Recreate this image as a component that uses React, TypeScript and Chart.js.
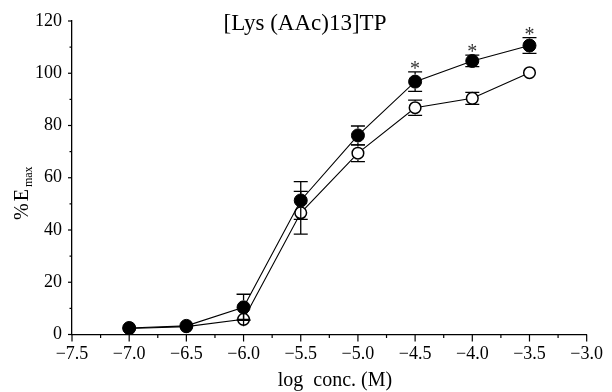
import { useEffect, useRef } from "react";
import { Chart, registerables } from "chart.js";

Chart.register(...registerables);

const FONT = '"Liberation Serif", "Times New Roman", serif';

// log concentration (M)
const concentrations = [-7.0, -6.5, -6.0, -5.5, -5.0, -4.5, -4.0, -3.5];
// filled circles
const filledMean = [2.5, 3.3, 10.4, 51.3, 76.2, 96.8, 104.7, 110.6];
const filledSem = [0, 0, 5.0, 7.2, 3.6, 3.7, 2.2, 3.0];
// open circles
const openMean = [2.3, 3.0, 5.8, 46.6, 69.4, 86.8, 90.4, 100.2];
const openSem = [0, 0, 1.5, 8.2, 3.2, 2.9, 2.3, 0];
// significance markers (*)
const significant = [false, false, false, false, false, true, true, true];

const titleText = "[Lys (AAc)13]TP";
const xTitle = "log  conc. (M)";

const isMajorX = (v: number) => Math.abs(v * 2 - Math.round(v * 2)) < 1e-6;
const isMajorY = (v: number) => Math.abs(v / 20 - Math.round(v / 20)) < 1e-6;

const FILLED_R = 6.5;
const OPEN_R = 5.8;

const overlay = {
  id: "overlay",
  afterDatasetsDraw(chart: any) {
    const ctx = chart.ctx as CanvasRenderingContext2D;
    const xs = chart.scales.x;
    const ys = chart.scales.y;
    ctx.save();
    ctx.strokeStyle = "#000";
    ctx.lineWidth = 1.3;
    const drawErr = (means: number[], sems: number[], r: number) => {
      concentrations.forEach((c, i) => {
        const e = sems[i];
        if (!e) return;
        const px = xs.getPixelForValue(c);
        const py = ys.getPixelForValue(means[i]);
        const top = ys.getPixelForValue(means[i] + e);
        const bot = ys.getPixelForValue(means[i] - e);
        ctx.beginPath();
        if (py - top < 5) {
          // tiny error: shows as a cross through the marker
          ctx.moveTo(px, py - r);
          ctx.lineTo(px, py + r);
          ctx.moveTo(px - r, py);
          ctx.lineTo(px + r, py);
        } else {
          if (py - top > r) {
            ctx.moveTo(px, py - r);
            ctx.lineTo(px, top);
            ctx.moveTo(px, py + r);
            ctx.lineTo(px, bot);
          }
          ctx.moveTo(px - 7, top);
          ctx.lineTo(px + 7, top);
          ctx.moveTo(px - 7, bot);
          ctx.lineTo(px + 7, bot);
        }
        ctx.stroke();
      });
    };
    drawErr(openMean, openSem, OPEN_R + 1);
    drawErr(filledMean, filledSem, FILLED_R + 0.5);

    // asterisks
    ctx.fillStyle = "#333";
    ctx.font = `20px ${FONT}`;
    ctx.textAlign = "center";
    ctx.textBaseline = "alphabetic";
    concentrations.forEach((c, i) => {
      if (!significant[i]) return;
      const px = xs.getPixelForValue(c);
      const top = ys.getPixelForValue(filledMean[i] + filledSem[i]);
      ctx.fillText("*", px, top + 3);
    });
    ctx.restore();
  },
  afterDraw(chart: any) {
    const ctx = chart.ctx as CanvasRenderingContext2D;
    const xs = chart.scales.x;
    const ys = chart.scales.y;
    const area = chart.chartArea;
    ctx.save();
    ctx.strokeStyle = "#000";
    ctx.lineWidth = 1.2;
    xs.ticks.forEach((t: any) => {
      const px = xs.getPixelForValue(t.value);
      ctx.beginPath();
      ctx.moveTo(px, area.bottom);
      ctx.lineTo(px, area.bottom + (isMajorX(t.value) ? 7 : 3.5));
      ctx.stroke();
    });
    ys.ticks.forEach((t: any) => {
      const py = ys.getPixelForValue(t.value);
      ctx.beginPath();
      ctx.moveTo(area.left, py);
      ctx.lineTo(area.left - (isMajorY(t.value) ? 4 : 2.5), py);
      ctx.stroke();
    });

    ctx.fillStyle = "#000";
    // title
    ctx.font = `23px ${FONT}`;
    ctx.textAlign = "center";
    ctx.textBaseline = "middle";
    ctx.fillText(titleText, 305, 24);
    // x title
    ctx.font = `20px ${FONT}`;
    ctx.fillText(xTitle, 335, 381);
    // y title with subscript
    ctx.translate(28, 220);
    ctx.rotate(-Math.PI / 2);
    ctx.textAlign = "left";
    ctx.textBaseline = "alphabetic";
    ctx.font = `20px ${FONT}`;
    let x = 0;
    ctx.fillText("%", x, 0);
    x += ctx.measureText("%").width + 2;
    ctx.fillText("E", x, 0);
    x += ctx.measureText("E").width + 2;
    ctx.font = `12px ${FONT}`;
    ctx.fillText("max", x, 4);
    ctx.restore();
  },
};

export default function App() {
  const ref = useRef<HTMLCanvasElement>(null);
  useEffect(() => {
    const canvas = ref.current;
    if (!canvas) return;
    const chart = new Chart(canvas, {
      type: "line",
      data: {
        datasets: [
          {
            label: "filled",
            data: concentrations.map((c, i) => ({ x: c, y: filledMean[i] })),
            borderColor: "#000",
            borderWidth: 1.1,
            pointRadius: FILLED_R,
            pointBorderWidth: 1,
            pointBackgroundColor: "#000",
            pointBorderColor: "#000",
            tension: 0,
          },
          {
            label: "open",
            data: concentrations.map((c, i) => ({ x: c, y: openMean[i] })),
            borderColor: "#000",
            borderWidth: 1.1,
            pointRadius: OPEN_R,
            pointBorderWidth: 1.5,
            pointBackgroundColor: "#fff",
            pointBorderColor: "#000",
            tension: 0,
          },
        ],
      },
      options: {
        animation: false,
        responsive: false,
        maintainAspectRatio: false,
        layout: { padding: { left: 0, top: 21, right: 24, bottom: 0 } },
        plugins: {
          legend: { display: false },
          tooltip: { enabled: false },
          title: { display: false },
        },
        scales: {
          x: {
            type: "linear",
            min: -7.5,
            max: -3.0,
            afterFit: (s: any) => {
              s.height = 57.5;
            },
            ticks: {
              stepSize: 0.25,
              autoSkip: false,
              maxRotation: 0,
              padding: 9,
              color: "#000",
              font: { family: FONT, size: 18 },
              callback: (v: any) =>
                isMajorX(Number(v)) ? Number(v).toFixed(1).replace("-", "\u2212") : "",
            },
            grid: { display: false, drawTicks: false },
            border: { display: true, color: "#000", width: 1.3 },
          },
          y: {
            type: "linear",
            min: 0,
            max: 120,
            afterFit: (s: any) => {
              s.width = 72;
            },
            ticks: {
              stepSize: 10,
              autoSkip: false,
              padding: 10,
              color: "#000",
              font: { family: FONT, size: 18 },
              callback: (v: any) => (isMajorY(Number(v)) ? String(v) : ""),
            },
            grid: { display: false, drawTicks: false },
            border: { display: true, color: "#000", width: 1.3 },
          },
        },
      },
      plugins: [overlay],
    });
    return () => chart.destroy();
  }, []);
  return (
    <div style={{ position: "fixed", left: 0, top: 0, width: 612, height: 392, background: "#fff" }}>
      <canvas ref={ref} width={612} height={392} />
    </div>
  );
}
